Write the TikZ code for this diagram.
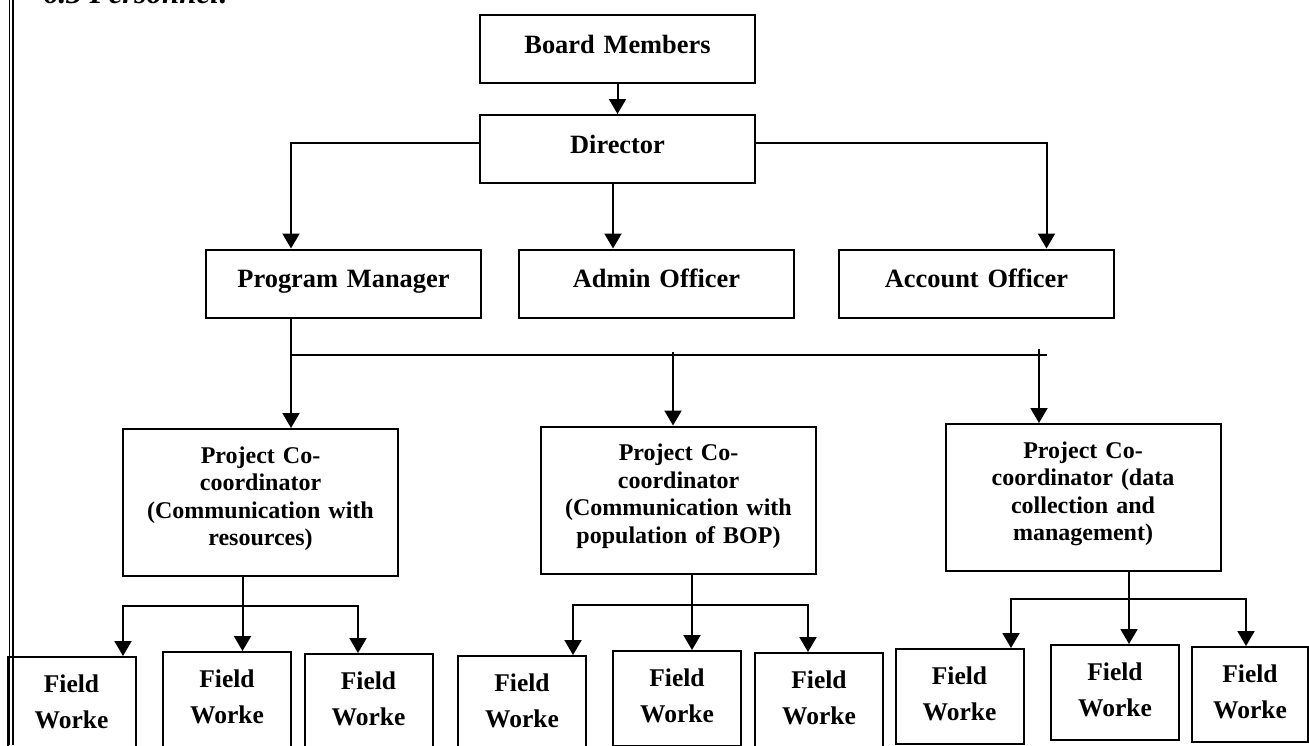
\documentclass[tikz,border=0pt]{standalone}
\usepackage{fontspec}
\setmainfont{Liberation Serif}
\usetikzlibrary{arrows.meta,positioning}

\begin{document}
\begin{tikzpicture}[x=1pt, y=-1pt,
  box/.style={draw, line width=2pt, inner sep=0pt, align=center},
  topbox/.style={box, text width=275pt, text height=38pt, text depth=30pt,
    font=\fontsize{26.4}{30}\selectfont\bfseries},
  pcbox/.style={box, text width=275pt, text height=34pt, text depth=113pt,
    font=\fontsize{24}{27.5}\selectfont\bfseries},
  fwbox/.style={box, text width=128pt, text height=35pt, text depth=60pt,
    font=\fontsize{25.5}{36}\selectfont\bfseries},
  wire/.style={line width=2pt},
  conn/.style={line width=2pt, -{Triangle[width=17pt,length=15pt]}}]

  % ---- Page frame ----
  \useasboundingbox (0,0) rectangle (1309,745);
  \clip (0,0) rectangle (1309,745);
  \draw[line width=1.2pt] (9.5,0) -- (9.5,745);
  \draw[line width=1.2pt] (13,0) -- (13,745);
  \node[anchor=base west, inner sep=0pt, font=\fontsize{31}{33}\selectfont\bfseries\itshape]
    (title) at (43,3.5) {6.3 Personnel:};

  % ---- Top levels ----
  \node[topbox] (board) at (617.5,49) {Board Members};
  \node[topbox] (dir) at (617.5,149) {Director};
  \node[topbox] (pm) at (343.5,283.5) {Program Manager};
  \node[topbox] (adm) at (656.5,283.5) {Admin Officer};
  \node[topbox] (acc) at (976.5,283.5) {Account Officer};

  % ---- Project co-coordinators ----
  \node[pcbox] (pc1) at (260.5,502.5)
    {Project Co-\\coordinator\\(Communication with\\resources)};
  \node[pcbox] (pc2) at (678.5,500)
    {Project Co-\\coordinator\\(Communication with\\population of BOP)};
  \node[pcbox] (pc3) at (1083,497.5)
    {Project Co-\\coordinator (data\\collection and\\management)};

  % ---- Field workers ----
  \foreach \n/\px/\py in {fa1/71.5/704.5, fb1/227/699.5, fc1/368.5/701.5,
                          fa2/522/703.5, fb2/677/698.5, fc2/819/700.5,
                          fa3/959.5/696.5, fb3/1115/692.5}
    \node[fwbox] (\n) at (\px,\py) {Field\\Worke};
  \node[fwbox, text width=116pt] (fc3) at (1250,694.5) {Field\\Worke};

  % ---- Connectors ----
  \draw[conn] (board) -- (dir);
  \draw[conn] ([yshift=6pt]dir.west) -| ([xshift=-52.5pt]pm.north);
  \draw[conn] ([yshift=6pt]dir.east) -| ([xshift=70pt]acc.north);
  \draw[conn] ([xshift=-4.5pt]dir.south) -- ([xshift=-4.5pt]dir.south |- adm.north);

  \draw[conn] ([xshift=-52.5pt]pm.south) -- ([xshift=30.5pt]pc1.north);
  \coordinate (busL) at (291,355);
  \coordinate (busR) at (1047,355);
  \draw[wire] (busL) -- (busR);
  \coordinate (tap2) at (673,352);
  \coordinate (tap3) at (1039,349);
  \draw[conn] (tap2) -- (tap2 |- pc2.north);
  \draw[conn] (tap3) -- (tap3 |- pc3.north);

  % coordinator -> field workers
  \foreach \g/\jx/\lx/\rx/\yy in {1/242.5/123/358/606, 2/692/573/808/605,
                                  3/1129/1011/1246/599} {
    \coordinate (j\g) at (\jx,\yy);
    \coordinate (l\g) at (\lx,\yy);
    \coordinate (r\g) at (\rx,\yy);
    \draw[conn] (pc\g.south -| j\g) -- (j\g |- fb\g.north);
    \draw[conn] (j\g) -| (l\g |- fa\g.north);
    \draw[conn] (j\g) -| (r\g |- fc\g.north);
  }

\end{tikzpicture}
\end{document}
